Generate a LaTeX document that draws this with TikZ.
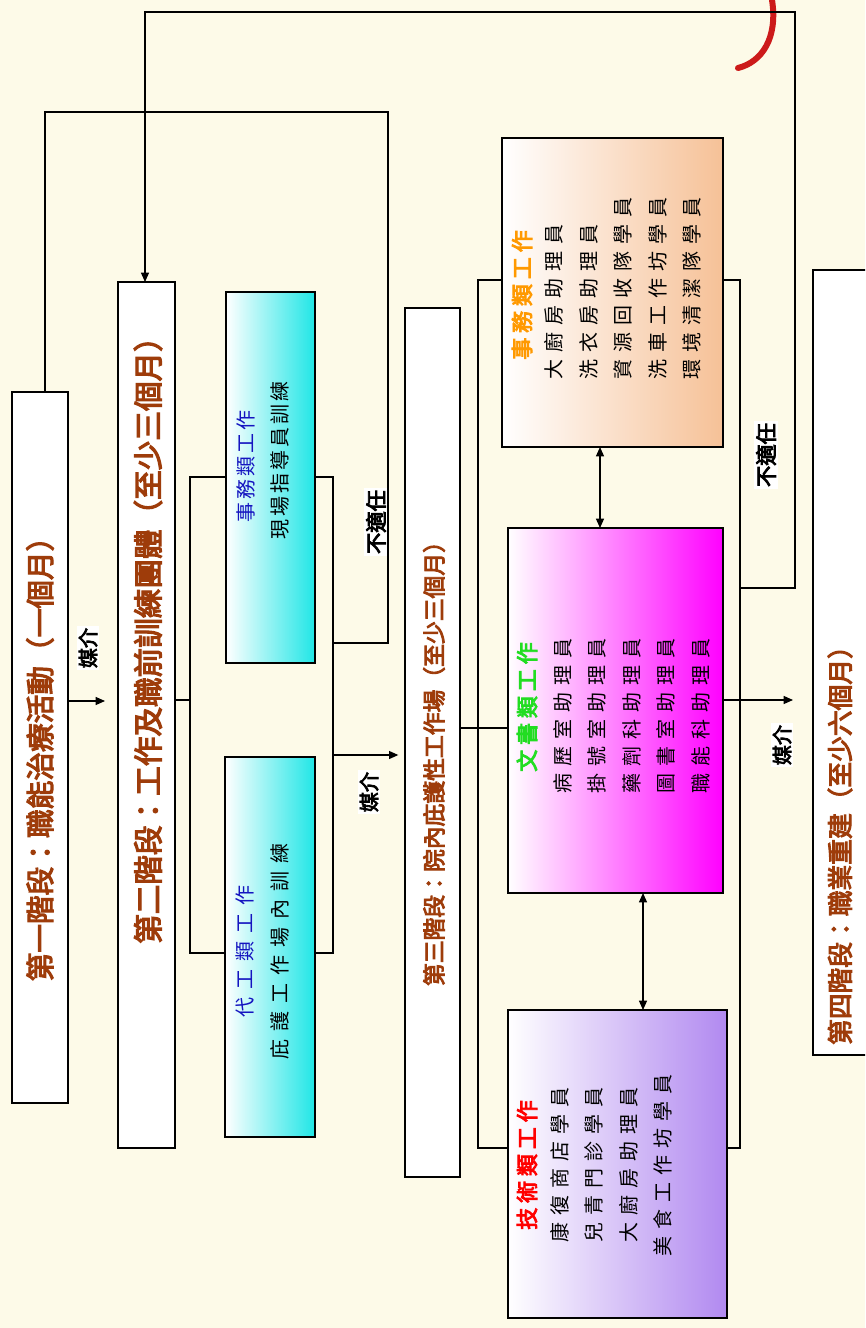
\documentclass[tikz,border=0pt]{standalone}
\usepackage{fontspec}
\usetikzlibrary{arrows.meta}
\newfontfamily\cjk{Noto Sans CJK TC}
\newfontfamily\cjkb[FakeBold=4]{Noto Sans CJK TC}
\definecolor{bgc}{HTML}{FDFAE8}
\definecolor{stagec}{HTML}{9E3C0A}
\definecolor{cyanc}{HTML}{20E6E6}
\definecolor{peach}{HTML}{F6C197}
\definecolor{magc}{HTML}{FF00FF}
\definecolor{purc}{HTML}{B189F0}
\definecolor{orgc}{HTML}{FF9900}
\definecolor{grnc}{HTML}{22DD22}
\definecolor{bluec}{HTML}{1414C0}
\definecolor{redc}{HTML}{FF0000}
\definecolor{arcred}{HTML}{CC1A1A}
\begin{document}
\begin{tikzpicture}[x=0.75pt,y=-0.75pt,
  sz/.style 2 args={minimum width=#1*0.75pt, minimum height=#2*0.75pt},
  bx/.style={draw=black, line width=1.1pt, fill=white, inner sep=0pt, outer sep=0pt},
  ln/.style={draw=black, line width=0.9pt},
  arr/.style={ln, -{Triangle[length=7pt,width=6pt]}},
  darr/.style={ln, {Triangle[length=7pt,width=6pt]}-{Triangle[length=7pt,width=6pt]}},
  stg/.style={rotate=90, text=stagec, inner sep=0pt},
  lbl/.style={rotate=90, fill=white, inner sep=1.5pt, font=\cjkb\fontsize{15}{15}\selectfont},
  body/.style={rotate=90, inner sep=0pt, font=\cjk\addfontfeatures{LetterSpace=35}\fontsize{15}{25.9}\selectfont},
  sttl/.style={rotate=90, inner sep=0pt, font=\cjkb\addfontfeatures{LetterSpace=22}\fontsize{16.5}{16.5}\selectfont},
  ctxt/.style={rotate=90, inner sep=0pt, font=\cjk\addfontfeatures{LetterSpace=15}\fontsize{15}{15}\selectfont},
  ctxtw/.style={rotate=90, inner sep=0pt, font=\cjk\addfontfeatures{LetterSpace=40}\fontsize{15}{15}\selectfont}
]
\useasboundingbox (0,0) rectangle (865,1328);
\clip (0,0) rectangle (865,1328);
\fill[bgc] (0,0) rectangle (865,1328);

% decorative arc
\draw[arcred, line width=4.5pt, line cap=round] (772,0) .. controls (778,38) and (762,62) .. (738,68);

% stage boxes
\node[bx, sz={56}{711}] (b1) at (40,747.5) {};
\node[bx, sz={57}{866}] (b2) at (146.5,715) {};
\node[bx, sz={55}{869}] (b3) at (432.5,742.5) {};
\node[bx, sz={72}{785}] (b4) at (849,662.5) {};

% training boxes
\node[bx, sz={89}{371}, left color=white, right color=cyanc] (cA) at (270.5,477.5) {};
\node[bx, sz={90}{380}, left color=white, right color=cyanc] (cB) at (270,947) {};

% stage 3 boxes
\node[bx, sz={221}{309}, left color=white, right color=peach] (s1) at (612.5,292.5) {};
\node[bx, sz={215}{365}, left color=white, right color=magc] (s2) at (615.5,710.5) {};
\node[bx, sz={219}{308}, left color=white, right color=purc] (s3) at (617.5,1164) {};

% stage titles
\node[stg, font=\cjkb\fontsize{21.5}{21.5}\selectfont] (t1) at (40,752) {第一階段：職能治療活動（一個月）};
\node[stg, font=\cjkb\fontsize{22.2}{22.2}\selectfont] (t2) at (148,633) {第二階段：工作及職前訓練團體（至少三個月）};
\node[stg, font=\cjkb\fontsize{17.1}{17.1}\selectfont] (t3) at (434,758) {第三階段：院內庇護性工作場（至少三個月）};
\node[stg, font=\cjkb\fontsize{19.3}{19.3}\selectfont] (t4) at (840,839) {第四階段：職業重建（至少六個月）};

% training box texts
\node[ctxt, text=bluec] (cAt) at (246,466) {事務類工作};
\node[ctxt] (cAb) at (280,460) {現場指導員訓練};
\node[ctxtw, text=bluec] (cBt) at (245,951) {代工類工作};
\node[ctxtw] (cBb) at (280,951) {庇護工作場內訓練};

% stage 3 texts
\node[sttl, text=orgc] (s1t) at (522,295) {事務類工作};
\node[body, align=left] (s1b) at (623,288) {大廚房助理員\\洗衣房助理員\\資源回收隊學員\\洗車工作坊學員\\環境清潔隊學員};
\node[sttl, text=grnc] (s2t) at (527,707) {文書類工作};
\node[body, align=left] (s2b) at (631.5,716) {病歷室助理員\\掛號室助理員\\藥劑科助理員\\圖書室助理員\\職能科助理員};
\node[sttl, text=redc] (s3t) at (527,1165) {技術類工作};
\node[body, align=center] (s3b) at (611.5,1165) {康復商店學員\\兒青門診學員\\大廚房助理員\\美食工作坊學員};

% labels
\node[lbl] (m1) at (88,648) {媒介};
\node[lbl] (m2) at (369,792) {媒介};
\node[lbl] (m3) at (782,745) {媒介};
\node[lbl, font=\cjkb\fontsize{16}{16}\selectfont] (n1) at (376,522) {不適任};
\node[lbl, font=\cjkb\fontsize{16}{16}\selectfont] (n2) at (766,455) {不適任};

% helper coordinates
\coordinate (y701) at (0,701);
\coordinate (y700) at (0,700);
\coordinate (yA) at (0,477);
\coordinate (yB) at (0,953);
\coordinate (y755) at (0,755);
\coordinate (y728) at (0,728);
\coordinate (y280) at (0,280);
\coordinate (y1148) at (0,1148);
\coordinate (y588) at (0,588);
\coordinate (y643) at (0,643);
\coordinate (xL1) at (190,0);
\coordinate (xR1) at (333,0);
\coordinate (xL2) at (478,0);
\coordinate (xR2) at (740,0);
\coordinate (xA) at (45,0);
\coordinate (xTop) at (145,0);
\coordinate (x600) at (600,0);
\coordinate (x643) at (643,0);
\coordinate (la1) at (45,112);
\coordinate (la2) at (388,112);
\coordinate (la3) at (388,643);
\coordinate (lb1) at (795,588);
\coordinate (lb2) at (795,12);
\coordinate (lb3) at (145,12);

% connectors
\draw[arr, shorten >=9.75pt] (b1.east |- y701) -- (b2.west |- y701);
\draw[ln] (b1.north -| xA) -- (la1) -- (la2) -- (la3) -- (xR1 |- y643);
\draw[ln] (b2.east |- y700) -- (xL1 |- y700);
\draw[ln] (cA.west |- yA) -- (xL1 |- yA) -- (xL1 |- yB) -- (cB.west |- yB);
\draw[ln] (cA.east |- yA) -- (xR1 |- yA) -- (xR1 |- yB) -- (cB.east |- yB);
\draw[arr, shorten >=5pt] (xR1 |- y755) -- (b3.west |- y755);
\draw[ln] (b3.east |- y728) -- (xL2 |- y728);
\draw[ln] (s1.west |- y280) -- (xL2 |- y280) -- (xL2 |- y1148) -- (s3.west |- y1148);
\draw[ln] (xL2 |- y728) -- (s2.west |- y728);
\draw[ln] (s1.east |- y280) -- (xR2 |- y280) -- (xR2 |- y1148) -- (s3.east |- y1148);
\draw[arr, shorten >=15pt] (s2.east |- y700) -- (b4.west |- y700);
\draw[arr] (xR2 |- y588) -- (lb1) -- (lb2) -- (lb3) -- (b2.north -| xTop);
\draw[darr] (s1.south -| x600) -- (s2.north -| x600);
\draw[darr] (s2.south -| x643) -- (s3.north -| x643);
\end{tikzpicture}
\end{document}
